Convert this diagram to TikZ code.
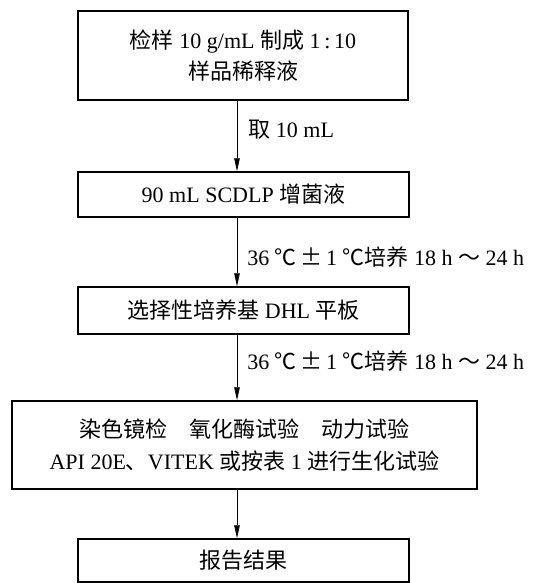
\documentclass[tikz,border=0pt]{standalone}
\usepackage{fontspec}
\setmainfont{Liberation Serif}
\newfontfamily\cjk{Noto Sans CJK SC}
\usetikzlibrary{arrows.meta}

\newcommand{\zh}[1]{{\cjk #1}}

\begin{document}
\begin{tikzpicture}[x=1pt,y=-1pt,
    stepbox/.style={draw, line width=1.5pt, inner sep=0pt,
      align=center, font=\fontsize{22}{32}\selectfont},
    flow/.style={line width=0.8pt, -{Triangle[length=13pt,width=5.5pt]}},
    note/.style={anchor=west, inner sep=0pt, font=\fontsize{22}{26}\selectfont}]

    \useasboundingbox (0,0) rectangle (550,583);

    % the boxes, top to bottom
    \node[stepbox, minimum width=330pt, minimum height=89pt] (sample) at (243,55.5)
        {\zh{检样} 10 g/mL \zh{制成} 1\,:\,10\\[-1pt] \zh{样品稀释液}};
    \node[stepbox, minimum width=331pt, minimum height=45pt] (enrich) at (243.5,194.5)
        {90 mL SCDLP \zh{增菌液}};
    \node[stepbox, minimum width=331pt, minimum height=47pt] (plate) at (243.5,310.5)
        {\zh{选择性培养基} DHL \zh{平板}};
    \node[stepbox, minimum width=465pt, minimum height=88pt] (tests) at (244.5,445)
        {\zh{染色镜检　氧化酶试验　动力试验}\\
         API 20E\zh{、}VITEK \zh{或按表} 1 \zh{进行生化试验}};
    \node[stepbox, minimum width=331pt, minimum height=43pt] (report) at (243.5,560.5)
        {\zh{报告结果}};

    % arrows between the boxes
    \draw[flow] ([xshift=-6pt]sample.south) -- ([xshift=-6.5pt]enrich.north)
        node[note, midway, xshift=11pt, yshift=6pt] (take) {\zh{取} 10 mL};
    \draw[flow] ([xshift=-6.5pt]enrich.south) -- ([xshift=-6.5pt]plate.north)
        node[note, midway, xshift=10pt, yshift=-5pt] (cult1)
        {36 \zh{℃}\,\zh{±}\,1 \zh{℃培养} 18 h \zh{～} 24 h};
    \draw[flow] ([xshift=-6.5pt]plate.south) -- ([xshift=-7.5pt]tests.north)
        node[note, midway, xshift=10pt, yshift=6.5pt] (cult2)
        {36 \zh{℃}\,\zh{±}\,1 \zh{℃培养} 18 h \zh{～} 24 h};
    \draw[flow] ([xshift=-7.5pt]tests.south) -- ([xshift=-6.5pt]report.north);

\end{tikzpicture}
\end{document}
